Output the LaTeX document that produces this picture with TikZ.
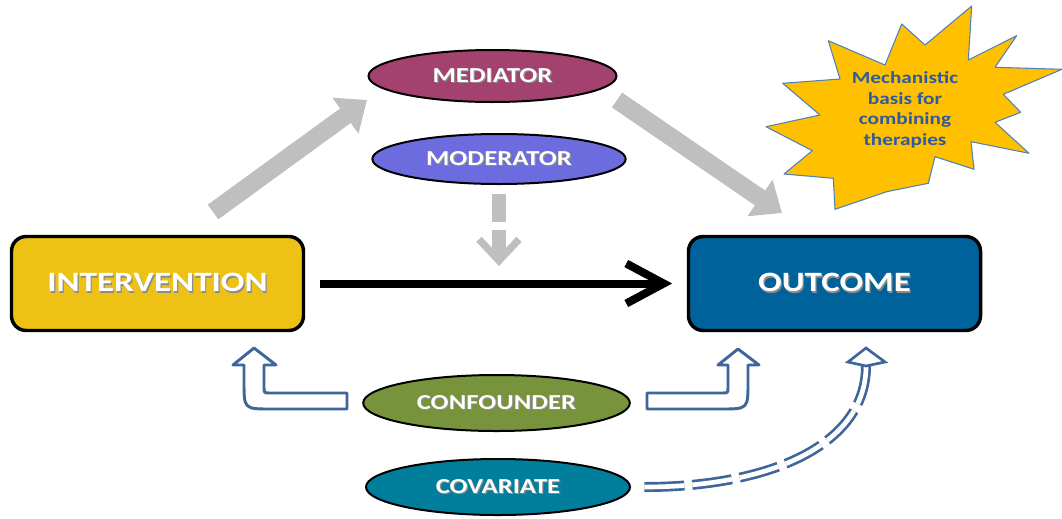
\documentclass[tikz,border=0pt]{standalone}
\usepackage{fontspec}
\setmainfont{Carlito}
\newfontfamily\labelfont{Carlito}[FakeStretch=1.25]
\usetikzlibrary{arrows.meta, shapes.geometric, calc}
\definecolor{InterColor}{RGB}{238,194,20}
\definecolor{OutColor}{RGB}{0,98,155}
\definecolor{MediatorColor}{RGB}{164,66,111}
\definecolor{ModeratorColor}{RGB}{108,108,222}
\definecolor{ConfColor}{RGB}{119,147,60}
\definecolor{CovColor}{RGB}{0,126,156}
\definecolor{PathGray}{RGB}{191,191,191}
\definecolor{LinkBlue}{RGB}{62,102,152}
\definecolor{BurstColor}{RGB}{255,192,0}
\definecolor{BurstLine}{RGB}{79,129,189}
\definecolor{BurstText}{RGB}{47,91,158}
\newcommand{\shadowtext}[1]{\rlap{\hspace{0.9pt}\raisebox{-0.9pt}{\textcolor{black!45}{#1}}}#1}
\tikzset{
  box/.style={rectangle, rounded corners=11pt, draw=black, line width=2.6pt, minimum width=219pt, minimum height=70.5pt, text=white, font=\labelfont\bfseries\fontsize{21}{25}\selectfont},
  role/.style={ellipse, draw=black, line width=1.5pt, inner sep=0pt, text=white, font=\labelfont\bfseries\fontsize{16}{19}\selectfont},
  path arrow/.style={draw=PathGray, line width=13.5pt, -{Triangle[length=20pt, width=32pt]}},
  effect arrow/.style={draw=black, line width=6pt, -{Straight Barb[length=28pt, width=30pt]}},
  modifier arrow/.style={draw=PathGray, line width=10.5pt, dash pattern=on 21pt off 6pt, -{Straight Barb[length=16pt, width=30pt, line width=5.5pt]}},
  bent arrow/.style={draw=LinkBlue, line width=2.2pt, fill=white, line join=round},
  covar link/.style={draw=LinkBlue, line width=2pt, double=white, double distance=3.5pt, dash pattern=on 30pt off 6pt},
  covar head/.style={draw=LinkBlue, line width=2pt, fill=white, line join=miter},
  burst/.style={fill=BurstColor, draw=BurstLine, line width=0.8pt, line join=round}
}
\begin{document}
\begin{tikzpicture}[x=0.75pt, y=-0.75pt]
  \useasboundingbox (0,0) rectangle (1062,518);

  % Main boxes
  \node[box, fill=InterColor] (inter) at (157.5,283.5) {\shadowtext{INTERVENTION}};
  \node[box, fill=OutColor] (out) at (834.5,283.5) {\shadowtext{OUTCOME}};

  % Third variables
  \node[role, fill=MediatorColor, minimum width=186pt, minimum height=39pt] (med) at (492.5,76) {\shadowtext{MEDIATOR}};
  \node[role, fill=ModeratorColor, minimum width=190pt, minimum height=37.5pt] (mod) at (499,159) {\shadowtext{MODERATOR}};
  \node[role, fill=ConfColor, minimum width=200pt, minimum height=42pt] (conf) at (496.5,403) {\shadowtext{CONFOUNDER}};
  \node[role, fill=CovColor, minimum width=198pt, minimum height=42pt] (cov) at (498,487) {\shadowtext{COVARIATE}};

  % Direct effect
  \draw[effect arrow, shorten <=11pt, shorten >=11pt] (inter) -- (out);

  % Mediated path
  \coordinate (medIn) at (367,100);
  \coordinate (medStart) at (213,212);
  \coordinate (medOut) at (617,100);
  \coordinate (outIn) at (782,213);
  \draw[path arrow] (medStart) -- (medIn);
  \draw[path arrow] (medOut) -- (outIn);

  % Moderation
  \coordinate (modEnd) at (499,266);
  \draw[modifier arrow, shorten <=7pt] (mod) -- (modEnd);

  % Confounding
  \coordinate (confL) at (347,393);
  \coordinate (confR) at (647,393);
  \draw[bent arrow] (confL) -- (270,393) .. controls (264,393) .. (264,387) -- (264,365) -- (276,365)
    -- (254,348) -- (233,365) -- (244,365) -- (244,382) .. controls (244,409) .. (271,409) -- (347,409) -- cycle;
  \draw[bent arrow] (confR) -- (722,393) .. controls (728,393) .. (728,387) -- (728,365) -- (718,365)
    -- (738,349) -- (759,365) -- (748,365) -- (748,382) .. controls (748,409) .. (721,409) -- (647,409) -- cycle;

  % Covariate
  \coordinate (covEnd) at (866,366);
  \draw[covar link, shorten <=10pt] (cov.east) .. controls (770,487) and (866,445) .. (covEnd);
  \draw[covar head] (covEnd) -- (848,362) -- (866,348) -- (885,362) -- cycle;

  % Note
  \draw[burst] (971.7,6) -- (968.3,60) -- (1016.7,35.7) -- (995,67.3) -- (1062,69.3) -- (1003.3,94.3)
    -- (1020.7,112.3) -- (995,122.3) -- (1029,153.3) -- (971,141.7) -- (974,169.3) -- (935,156.7)
    -- (928.3,183.3) -- (886.7,191.7) -- (835,209.3) -- (833.3,178.3) -- (784,174) -- (812.3,150.7)
    -- (766,126.7) -- (820,115) -- (782.7,83.3) -- (840,79) -- (828.3,40.7) -- (885,65)
    -- (901.7,24) -- (925,45) -- cycle;
  \node[align=center, text=BurstText, font=\labelfont\bfseries\fontsize{12.75}{15.4}\selectfont] (note) at (905,110) {Mechanistic\\basis for\\combining\\therapies};
\end{tikzpicture}
\end{document}
